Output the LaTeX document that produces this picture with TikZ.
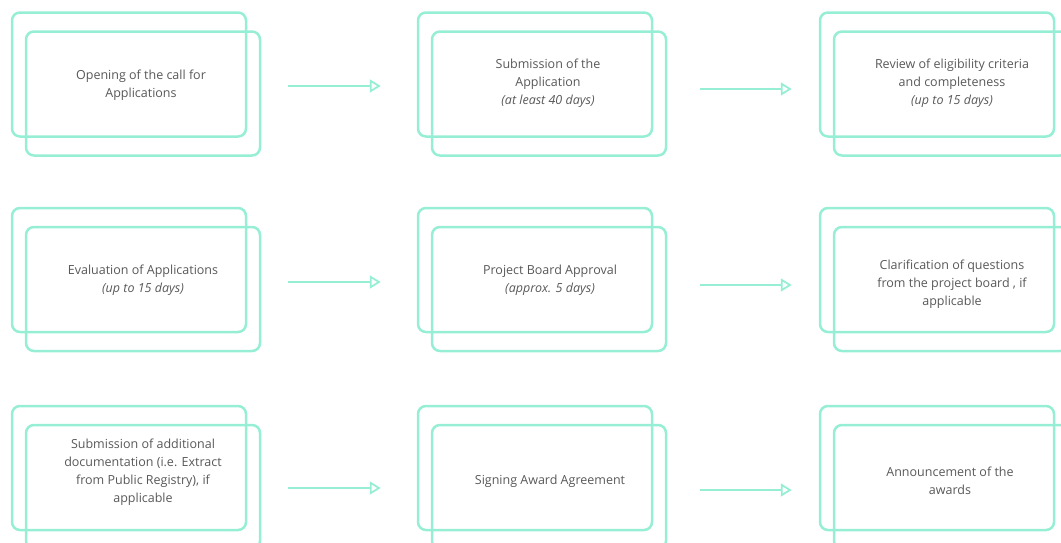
\documentclass[tikz,border=0pt]{standalone}
\usepackage{fontspec}
\setmainfont{Open Sans}
\usetikzlibrary{arrows.meta}
\definecolor{mint}{RGB}{150,238,212}
\definecolor{ink}{RGB}{88,88,88}

\begin{document}
\begin{tikzpicture}[x=1pt,y=-1pt,
    box/.style={draw=mint, line width=2.5pt, rounded corners=8pt, minimum width=234pt, minimum height=124pt, inner sep=0pt},
    steptext/.style={text=ink, font=\fontsize{12.5}{18}\selectfont, align=center},
    flow/.style={draw=mint, line width=1.8pt, -{Triangle[open, length=11pt, width=13pt, line width=1.8pt]}}]
	  \clip (0,0) rectangle (1061,542);

	  % first row
	  \node[box] (open-b) at (129,74.5) {};
	  \node[box] (open-f) at (143,93.5) {};
	  \node[box] (submit-b) at (535,74.5) {};
	  \node[box] (submit-f) at (549,93.5) {};
	  \node[box] (review-b) at (937,74.5) {};
	  \node[box] (review-f) at (951,93.5) {};
	  \node[steptext] (open) at (141,85.5) {Opening of the call for\\Applications};
	  \node[steptext] (submit) at (548,83) {Submission of the\\Application\\\textit{(at least 40 days)}};
	  \node[steptext] (review) at (952,83) {Review of eligibility criteria\\and completeness\\\textit{(up to 15 days)}};

	  % second row
	  \node[box] (evaluate-b) at (129,270) {};
	  \node[box] (evaluate-f) at (143,289) {};
	  \node[box] (approve-b) at (535,270) {};
	  \node[box] (approve-f) at (549,289) {};
	  \node[box] (clarify-b) at (937,270) {};
	  \node[box] (clarify-f) at (951,289) {};
	  \node[steptext] (evaluate) at (143,280) {Evaluation of Applications\\\textit{(up to 15 days)}};
	  \node[steptext] (approve) at (550,280) {Project Board Approval\\\textit{(approx. 5 days)}};
	  \node[steptext] (clarify) at (952,284.5) {Clarification of questions\\from the project board , if\\applicable};

	  % third row
	  \node[box] (extra-b) at (129,468) {};
	  \node[box] (extra-f) at (143,487) {};
	  \node[box] (sign-b) at (535,468) {};
	  \node[box] (sign-f) at (549,487) {};
	  \node[box] (announce-b) at (937,468) {};
	  \node[box] (announce-f) at (951,487) {};
	  \node[steptext] (extra) at (143,472) {Submission of additional\\documentation (i.e. Extract\\from Public Registry), if\\applicable};
	  \node[steptext] (sign) at (550,481) {Signing Award Agreement};
	  \node[steptext] (announce) at (950,480.5) {Announcement of the\\awards};

	  \coordinate (a1) at (288,86);
	  \coordinate (a2) at (700,89);
	  \coordinate (a3) at (288,282);
	  \coordinate (a4) at (700,285);
	  \coordinate (a5) at (288,488);
	  \coordinate (a6) at (700,490);

	  \draw[flow, shorten >=36pt] (a1) -- (a1 -| submit-b.west);
	  \draw[flow, shorten >=27pt] (a2) -- (a2 -| review-b.west);
	  \draw[flow, shorten >=36pt] (a3) -- (a3 -| approve-b.west);
	  \draw[flow, shorten >=27pt] (a4) -- (a4 -| clarify-b.west);
	  \draw[flow, shorten >=36pt] (a5) -- (a5 -| sign-b.west);
	  \draw[flow, shorten >=27pt] (a6) -- (a6 -| announce-b.west);
	\end{tikzpicture}
\end{document}
